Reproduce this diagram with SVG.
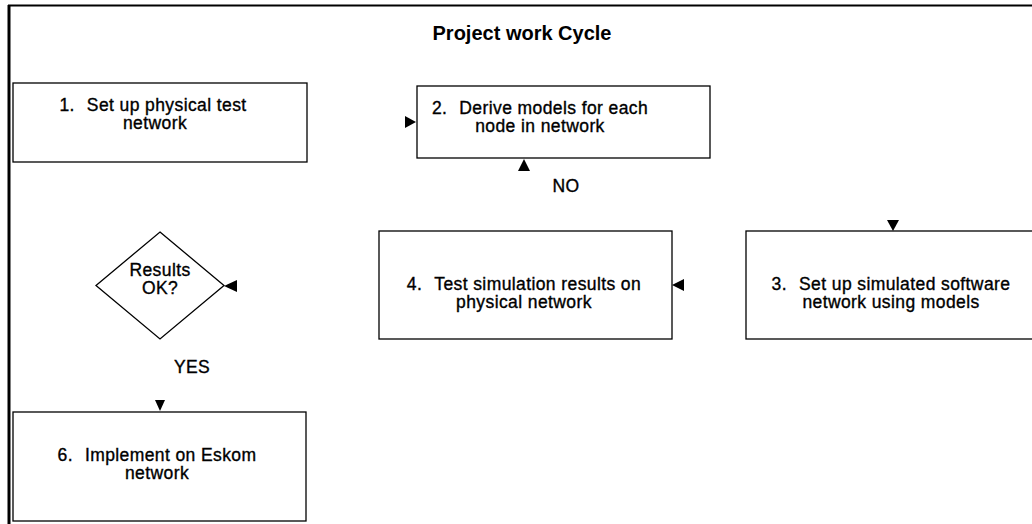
<svg xmlns="http://www.w3.org/2000/svg" width="1032" height="524" viewBox="0 0 1032 524">
<style>
.box{fill:#fff;stroke:#000;stroke-width:1.3}
.t{font-family:"Liberation Sans",Arial,sans-serif;font-size:17.5px;letter-spacing:0.4px;fill:#000;stroke:#000;stroke-width:0.35;text-anchor:middle}
.title{font-family:"Liberation Sans",Arial,sans-serif;font-size:20px;font-weight:bold;fill:#000;text-anchor:middle}
.ah{fill:#000}
</style>
<rect width="1032" height="524" fill="#fff"/>
<g id="frame">
<line x1="8" y1="5.5" x2="1032" y2="5.5" stroke="#000" stroke-width="2"/>
<line x1="9" y1="5" x2="9" y2="524" stroke="#000" stroke-width="3"/>
</g>
<text class="title" x="522" y="40">Project work Cycle</text>
<g id="n1">
<rect class="box" x="13" y="83" width="294" height="79"/>
<text class="t" x="153" y="111">1.<tspan dx="12">Set up physical test</tspan></text>
<text class="t" x="155" y="129">network</text>
</g>
<g id="n2">
<rect class="box" x="417" y="86" width="293" height="72"/>
<text class="t" x="540" y="114">2.<tspan dx="12">Derive models for each</tspan></text>
<text class="t" x="540" y="132">node in network</text>
</g>
<g id="n3">
<rect class="box" x="746" y="231" width="300" height="108"/>
<text class="t" x="891" y="290">3.<tspan dx="12">Set up simulated software</tspan></text>
<text class="t" x="891" y="308">network using models</text>
</g>
<g id="n4">
<rect class="box" x="379" y="231" width="293" height="108"/>
<text class="t" x="524" y="290">4.<tspan dx="12">Test simulation results on</tspan></text>
<text class="t" x="524" y="308">physical network</text>
</g>
<g id="n5">
<polygon class="box" points="160,232 224,285.5 160,339 96,285.5"/>
<text class="t" x="160" y="276">Results</text>
<text class="t" x="160" y="294">OK?</text>
</g>
<g id="n6">
<rect class="box" x="13" y="412" width="293" height="109"/>
<text class="t" x="157" y="461">6.<tspan dx="12">Implement on Eskom</tspan></text>
<text class="t" x="157" y="479">network</text>
</g>
<g id="connectors">
<polygon class="ah" points="416,122 405,116 405,128"/>
<polygon class="ah" points="524,159 518,171 530,171"/>
<polygon class="ah" points="893,231 887,220 899,220"/>
<polygon class="ah" points="672,285 684,279 684,291"/>
<polygon class="ah" points="224,286 237,280 237,292"/>
<polygon class="ah" points="160,411 155,400 165,400"/>
<text class="t" x="566" y="192">NO</text>
<text class="t" x="192" y="373">YES</text>
</g>
</svg>
